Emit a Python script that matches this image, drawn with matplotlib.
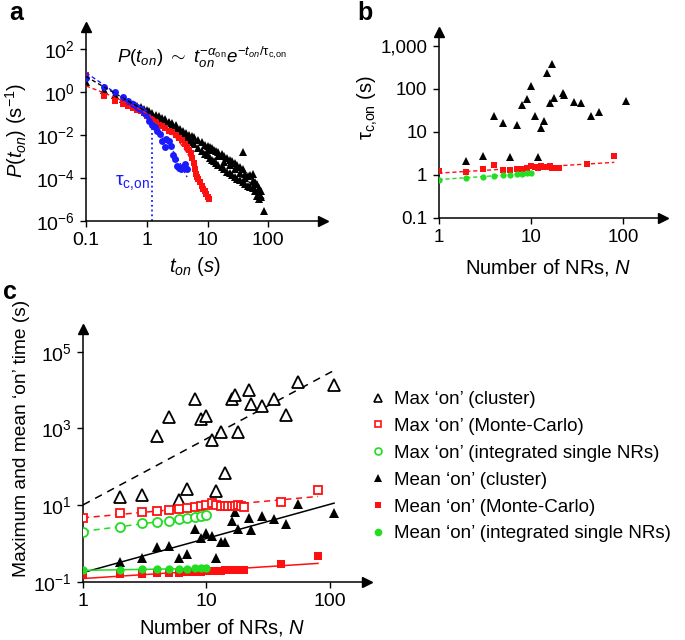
import numpy as np
from matplotlib import pyplot as plt
from matplotlib.lines import Line2D

plt.rcParams['font.family'] = ['Liberation Sans', 'DejaVu Sans']
plt.rcParams['mathtext.fontset'] = 'custom'
plt.rcParams['mathtext.rm'] = 'Liberation Sans'
plt.rcParams['mathtext.it'] = 'Liberation Sans:italic'
plt.rcParams['mathtext.bf'] = 'Liberation Sans:bold'
plt.rcParams['font.size'] = 13.5
plt.rcParams['axes.linewidth'] = 1.1

RED = '#ff1010'
GREEN = '#22dd22'
BLUE = '#1a1aff'

#---- Panel a: on-time distributions (log10 of P)

t_cluster = [0.1, 0.2, 0.3, 0.4, 0.5, 0.6, 0.7, 0.8, 0.9, 1.0, 1.1, 1.2, 1.4, 1.6, 1.8,
             2.0, 2.0, 2.3, 2.3, 2.6, 2.6, 3.0, 3.0, 3.5, 3.5, 4.0, 4.0, 4.5, 4.5,
             5.0, 5.0, 5.5, 5.5, 6.0, 6.0, 7.0, 7.0, 8.0, 8.0, 9.0, 9.0,
             10, 10, 10, 11, 11, 12, 12, 13, 13, 14, 14, 15, 15, 15, 17, 17,
             19, 19, 19, 21, 21, 23, 23, 23, 25, 25, 28, 28, 28, 31, 31, 34, 34, 34,
             38, 38, 38, 42, 42, 42, 46, 46, 50, 50, 55, 55, 55, 60, 60, 65, 65,
             70, 70, 70, 75, 75, 85]
logp_cluster = [0.45, 0.1, -0.15, -0.33, -0.48, -0.57, -0.66, -0.72, -0.8, -0.85, -0.9, -0.96,
                -1.05, -1.12, -1.2,
                -1.28, -1.35, -1.38, -1.45, -1.45, -1.55, -1.55, -1.7, -1.7, -1.85, -1.8, -2.0,
                -1.9, -2.1, -2.0, -2.25, -2.05, -2.35, -2.1, -2.4, -2.25, -2.6, -2.35, -2.75,
                -2.45, -2.9, -2.5, -2.95, -2.7, -2.55, -3.05, -2.6, -3.15, -2.7, -3.2,
                -2.75, -3.3, -2.8, -3.4, -3.0, -2.9, -3.5, -3.0, -3.6, -3.25, -3.05, -3.7,
                -3.15, -3.75, -3.4, -3.2, -3.85, -3.3, -3.95, -3.6, -3.4, -4.05, -3.5, -4.1,
                -3.75, -2.8, -3.6, -4.2, -3.8, -4.3, -4.0, -3.9, -4.35, -3.85, -4.4, -3.8,
                -4.45, -4.15, -4.2, -4.6, -4.3, -4.85, -4.45, -5.0, -4.7, -4.6, -4.9, -5.55]

t_mc = [0.1, 0.2, 0.3, 0.4, 0.5, 0.6, 0.7, 0.8, 0.9, 1.0, 1.2, 1.4, 1.6, 1.8, 2.0, 2.3, 2.6,
        3.0, 3.4, 3.8, 4.2, 4.6, 5.0, 5.3, 5.6, 5.9, 6.2, 6.5, 6.8, 7.1, 7.5, 8.0, 8.5, 9.0,
        9.5, 10.0, 10.5]
logp_mc = [0.8, -0.17, -0.4, -0.55, -0.65, -0.74, -0.82, -0.9, -0.97, -1.1, -1.27, -1.4,
           -1.52, -1.6, -1.69, -1.8, -1.88, -2.0, -2.12, -2.25, -2.4, -2.55, -2.7, -2.85,
           -3.05, -3.3, -3.6, -3.8, -3.95, -4.05, -4.2, -4.35, -4.5, -4.6, -4.75, -4.87, -5.0]

t_single = [0.1, 0.2, 0.3, 0.4, 0.5, 0.6, 0.7, 0.8, 0.9, 1.0, 1.1, 1.2, 1.35, 1.5, 1.65, 1.8,
            2.0, 2.1, 2.3, 2.5, 2.7, 2.9, 3.1, 3.4, 3.7, 4.0, 4.3, 4.6]
logp_single = [0.65, 0.23, 0.0, -0.25, -0.44, -0.58, -0.68, -0.8, -0.92, -1.05, -1.35, -1.55,
               -1.65, -1.8, -1.95, -2.3, -2.55, -2.2, -2.3, -2.5, -2.95, -3.1, -3.45, -3.55,
               -3.6, -3.5, -3.35, -3.6]
tau_c_on_single = 1.2

#---- Panel b: cut-off time vs number of NRs

n_cluster_b = [2, 3, 4, 5, 6, 7, 8, 9, 10, 11, 12, 13, 14, 15, 16, 17, 18, 22, 23, 29, 35, 45, 55, 108]
tau_cluster = [2.12, 2.72, 23.5, 15.7, 2.54, 14.3, 42.5, 58.5, 116, 23, 2.6, 12.4, 18, 228, 47,
               375, 60, 78, 72, 50, 46, 23.5, 29, 52.5]
n_mc = [1, 2, 3, 4, 5, 6, 7, 8, 9, 10, 11, 12, 13, 14, 15, 16, 17, 18, 19, 20, 40, 80]
tau_mc = [1.24, 1.14, 1.34, 1.66, 1.28, 1.28, 1.36, 1.4, 1.45, 1.59, 1.55, 1.41, 1.59, 1.5,
          1.52, 1.62, 1.45, 1.41, 1.45, 1.47, 1.77, 2.68]
n_single = [1, 2, 3, 4, 5, 6, 7, 8, 9, 10]
tau_single = [0.78, 0.87, 0.9, 0.95, 1.0, 1.0, 1.03, 1.03, 1.08, 1.1]

#---- Panel c: maximum and mean on-times

n_cluster_c = [2, 3, 4, 5, 6, 7, 8, 9, 10, 11, 12, 13, 14, 16, 17, 18, 22, 23, 28, 35, 44, 55, 108]
max_cluster = [16.6, 18.5, 630, 1950, 13.6, 26, 6000, 1730, 2100, 500, 23.5, 820, 70, 6000,
               7400, 820, 10000, 4300, 3800, 6000, 2230, 16400, 13500]
mean_cluster = [0.34, 0.43, 0.80, 0.87, 0.41, 0.53, 2.35, 1.37, 1.85, 1.58, 0.43, 1.12, 1.12,
                3.9, 6.8, 2.35, 4.56, 2.26, 5.2, 4.4, 3.2, 10.7, 6.2]
max_mc = [4.6, 6.4, 6.8, 7.1, 7.5, 7.8, 8.6, 9.1, 9.5, 10, 11.1, 10.3, 9.8, 9.5, 9.3, 9.6,
          9.8, 10, 9.7, 9.0, 12.3, 24.9]
mean_mc = [0.15, 0.16, 0.165, 0.17, 0.17, 0.175, 0.18, 0.18, 0.185, 0.19, 0.19, 0.195, 0.195,
           0.2, 0.2, 0.2, 0.205, 0.205, 0.21, 0.21, 0.29, 0.475]
max_single = [2.04, 2.76, 3.5, 3.7, 3.95, 4.3, 4.55, 4.8, 5.1, 5.6]
mean_single = [0.2, 0.21, 0.215, 0.215, 0.22, 0.22, 0.22, 0.225, 0.225, 0.23]

legend_labels = ['Max \u2018on\u2019 (cluster)', 'Max \u2018on\u2019 (Monte-Carlo)',
                 'Max \u2018on\u2019 (integrated single NRs)', 'Mean \u2018on\u2019 (cluster)',
                 'Mean \u2018on\u2019 (Monte-Carlo)', 'Mean \u2018on\u2019 (integrated single NRs)']


#---- Helpers

def powerlaw_line(x, y):
    x = np.asarray(x, float)
    p = np.polyfit(np.log10(x), np.log10(y), 1)
    xl = np.logspace(0, np.log10(x.max()), 50)
    return xl, 10 ** np.polyval(p, np.log10(xl))


def cutoff_line(t, logp):
    # log10 P = c0 - alpha*log10 t - t/tau (scaled)
    t = np.asarray(t, float)
    A = np.column_stack((np.ones_like(t), np.log10(t), t))
    c = np.linalg.lstsq(A, np.asarray(logp, float), rcond=None)[0]
    tl = np.logspace(np.log10(t.min()), np.log10(t.max()), 200)
    return tl, 10 ** (c[0] + c[1] * np.log10(tl) + c[2] * tl)


def style_axis(ax, size=13.5):
    for s in ['top', 'right']:
        ax.spines[s].set_visible(False)
    ax.minorticks_off()
    ax.tick_params(which='both', length=4, width=1, labelsize=size, pad=4)
    ax.plot(1, 0, '>k', ms=7, transform=ax.transAxes, clip_on=False)
    ax.plot(0, 1, '^k', ms=7, transform=ax.transAxes, clip_on=False)


def fx(x):
    return x / 685.0


def fy(y):
    return 1 - y / 640.0


TAU = r'\mathrm{\tau}_{\mathrm{c{,}on}}'

fig = plt.figure(figsize=(6.85, 6.4), dpi=100)

#---- Panel a

axa = fig.add_axes([fx(86), fy(221), fx(323) - fx(86), fy(27) - fy(221)])
axa.set_xscale('log')
axa.set_yscale('log')
axa.set_xlim(0.1, 10 ** 2.9)
axa.set_ylim(1e-6, 10 ** 3.02)

axa.plot(t_cluster, 10 ** np.array(logp_cluster), '^', color='k', ms=5.5, mew=0, zorder=3)
axa.plot(t_mc, 10 ** np.array(logp_mc), 's', color=RED, ms=5, mew=0, zorder=4)
axa.plot(t_single, 10 ** np.array(logp_single), 'o', color=BLUE, ms=5, mew=0, zorder=5)
for t, lp, col in [(t_cluster, logp_cluster, 'k'), (t_mc, logp_mc, RED),
                   (t_single, logp_single, BLUE)]:
    tl, pl = cutoff_line(t, lp)
    axa.plot(tl, pl, '--', color=col, lw=1, dashes=(3, 2), zorder=6)

p_tau = 10 ** np.interp(tau_c_on_single, t_single, logp_single)
axa.plot([tau_c_on_single, tau_c_on_single], [1e-6, p_tau], ':', color=BLUE, lw=1.3)
axa.text(0.57, 10 ** -4.2, '$' + TAU + '$', color=BLUE,
         ha='center', va='center', fontsize=14)

axa.set_xticks([0.1, 1, 10, 100])
axa.set_xticklabels(['0.1', '1', '10', '100'])
axa.set_yticks([1e-6, 1e-4, 1e-2, 1e0, 1e2])
axa.set_yticklabels([r'$10^{-6}$', r'$10^{-4}$', r'$10^{-2}$', r'$10^{0}$', r'$10^{2}$'])
style_axis(axa, 14)

fig.text(fx(117), fy(57),
         r'$P(t_{on})\ \sim\ t_{on}^{-\alpha_{\mathrm{on}}}e^{-t_{on}/' + TAU + '}$',
         ha='left', va='center', fontsize=13.5)
fig.text(fx(195), fy(267), r'$t_{on}\ (s)$', ha='center', va='center', fontsize=14.5)
fig.text(fx(16), fy(130), r'$P(t_{on})\ (\mathrm{s}^{-1})$', rotation=90,
         ha='center', va='center', fontsize=14.5)
fig.text(fx(16), fy(13), 'a', weight='bold', fontsize=18, ha='center', va='center')

#---- Panel b

axb = fig.add_axes([fx(438.5), fy(218), fx(663) - fx(438.5), fy(32) - fy(218)])
axb.set_xscale('log')
axb.set_yscale('log')
axb.set_xlim(1, 10 ** 2.43)
axb.set_ylim(0.1, 10 ** 3.316)

axb.plot(n_cluster_b, tau_cluster, '^', color='k', ms=6, mew=0, zorder=3)
xl, yl = powerlaw_line(n_mc, tau_mc)
axb.plot(xl, yl, '--', color=RED, lw=1, dashes=(3, 2))
xl, yl = powerlaw_line(n_single, tau_single)
axb.plot(xl, yl, '--', color=GREEN, lw=1, dashes=(3, 2))
axb.plot(n_mc, tau_mc, 's', color=RED, ms=4.5, mew=0, zorder=4)
axb.plot(n_single, tau_single, 'o', color=GREEN, ms=4.5, mew=0, zorder=5)

axb.set_xticks([1, 10, 100])
axb.set_xticklabels(['1', '10', '100'])
axb.set_yticks([0.1, 1, 10, 100, 1000])
axb.set_yticklabels(['0.1', '1', '10', '100', '1,000'])
style_axis(axb)

fig.text(fx(548), fy(268), r'Number of NRs, $N$', ha='center', va='center', fontsize=14.5)
fig.text(fx(368), fy(107), '$' + TAU + r'\ \mathrm{(s)}$', rotation=90,
         ha='center', va='center', fontsize=14.5)
fig.text(fx(365), fy(13), 'b', weight='bold', fontsize=18, ha='center', va='center')

#---- Panel c

axc = fig.add_axes([fx(83), fy(582), fx(367) - fx(83), fy(329) - fy(582)])
axc.set_xscale('log')
axc.set_yscale('log')
axc.set_xlim(1, 10 ** 2.3)
axc.set_ylim(0.1, 10 ** 5.59)

fits = [(n_cluster_c, max_cluster, 'k', (5, 4)), (n_mc, max_mc, RED, (4, 3)),
        (n_single, max_single, GREEN, (4, 3))]
for n, v, col, d in fits:
    xl, yl = powerlaw_line(n, v)
    axc.plot(xl, yl, '--', color=col, lw=1.1, dashes=d)
for n, v, col in [(n_cluster_c, mean_cluster, 'k'), (n_mc, mean_mc, RED),
                  (n_single, mean_single, GREEN)]:
    xl, yl = powerlaw_line(n, v)
    axc.plot(xl, yl, '-', color=col, lw=1.1)

axc.plot(n_cluster_c, max_cluster, '^', mfc='white', mec='k', ms=8, mew=1.3, zorder=3)
axc.plot(n_mc, max_mc, 's', mfc='white', mec=RED, ms=6, mew=1.3, zorder=4)
axc.plot(n_single, max_single, 'o', mfc='white', mec=GREEN, ms=6.5, mew=1.3, zorder=5)
axc.plot(n_cluster_c, mean_cluster, '^', color='k', ms=6.5, mew=0, zorder=3)
axc.plot(n_mc, mean_mc, 's', color=RED, ms=5.5, mew=0, zorder=4)
axc.plot(n_single, mean_single, 'o', color=GREEN, ms=6, mew=0, zorder=5)

axc.set_xticks([1, 10, 100])
axc.set_xticklabels(['1', '10', '100'])
axc.set_yticks([1e-1, 1e1, 1e3, 1e5])
axc.set_yticklabels([r'$10^{-1}$', r'$10^{1}$', r'$10^{3}$', r'$10^{5}$'])
style_axis(axc, 14)

fig.text(fx(222), fy(627), r'Number of NRs, $N$', ha='center', va='center', fontsize=14.5)
fig.text(fx(22), fy(438), 'Maximum and mean \u2018on\u2019 time (s)', rotation=90,
         ha='center', va='center', fontsize=13.8)
fig.text(fx(10), fy(292), 'c', weight='bold', fontsize=18, ha='center', va='center')

handles = [
    Line2D([], [], ls='none', marker='^', mfc='white', mec='k', ms=6, mew=1.2),
    Line2D([], [], ls='none', marker='s', mfc='white', mec=RED, ms=5, mew=1.2),
    Line2D([], [], ls='none', marker='o', mfc='white', mec=GREEN, ms=5, mew=1.2),
    Line2D([], [], ls='none', marker='^', color='k', ms=6, mew=0),
    Line2D([], [], ls='none', marker='s', color=RED, ms=5, mew=0),
    Line2D([], [], ls='none', marker='o', color=GREEN, ms=5.5, mew=0),
]
fig.legend(handles, legend_labels, loc='upper left', bbox_to_anchor=(fx(370), fy(391)),
           frameon=False, handlelength=0.8, handletextpad=0.5, labelspacing=0.52,
           borderpad=0, borderaxespad=0, fontsize=13.5)

fig.savefig('out.png', dpi=100)
